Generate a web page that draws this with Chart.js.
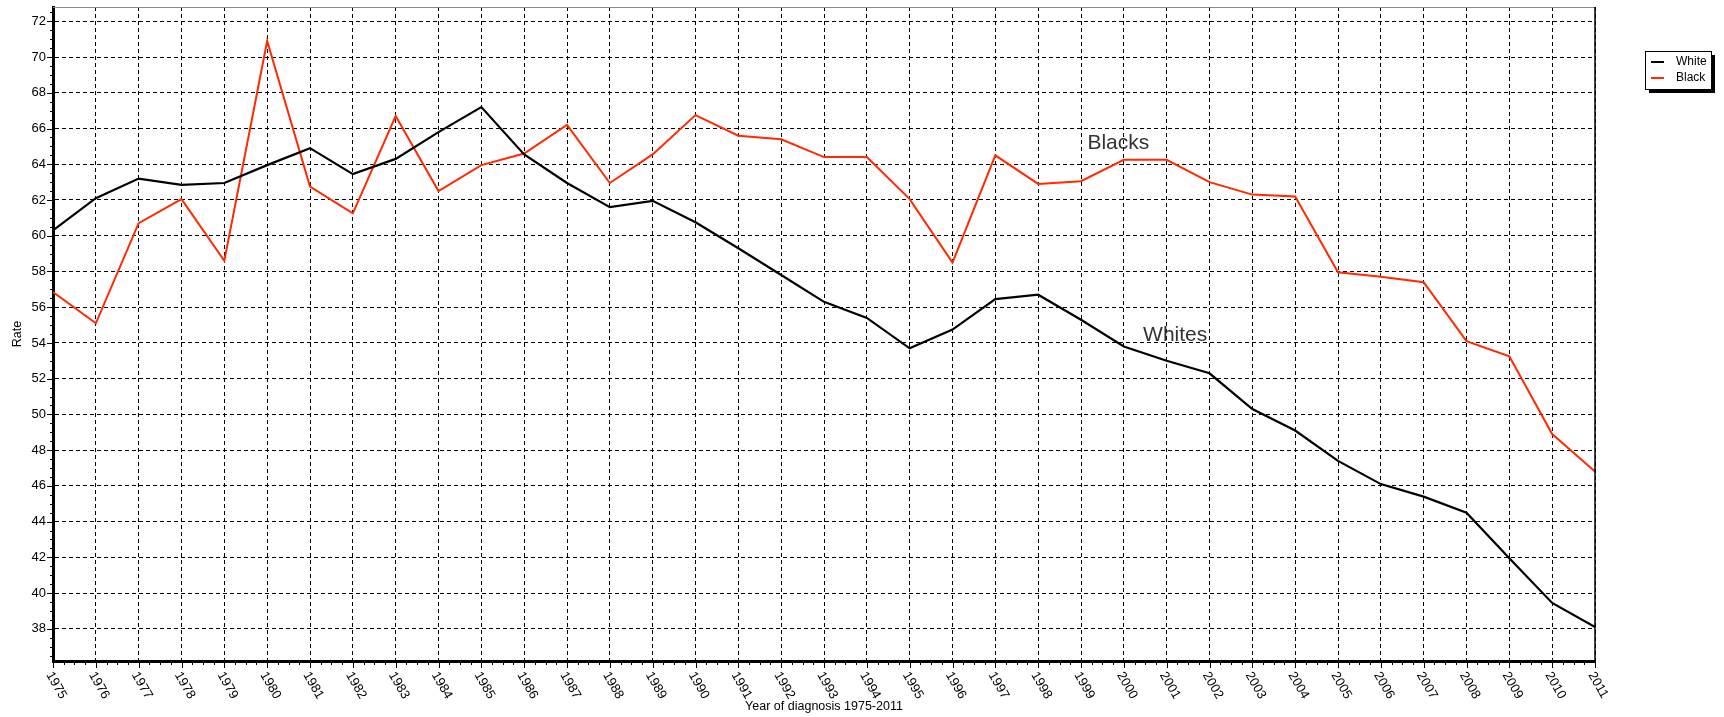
<!DOCTYPE html>
<html>
<head>
<meta charset="utf-8">
<script src="https://cdn.jsdelivr.net/npm/chart.js@4.4.1/dist/chart.umd.min.js"></script>
<style>
  html, body { margin: 0; padding: 0; background: #fff; }
  canvas { display: block; }
</style>
</head>
<body>
<canvas id="rateChart" width="1724" height="717"></canvas>
<script>
// Years on the x axis
const years = [1975, 1976, 1977, 1978, 1979, 1980, 1981, 1982, 1983, 1984,
    1985, 1986, 1987, 1988, 1989, 1990, 1991, 1992, 1993, 1994,
    1995, 1996, 1997, 1998, 1999, 2000, 2001, 2002, 2003, 2004,
    2005, 2006, 2007, 2008, 2009, 2010, 2011];

// Rates
const whiteRates = [60.3, 62.1, 63.2, 62.85, 62.95, 63.95, 64.9, 63.45, 64.3, 65.8,
    67.2, 64.55, 62.95, 61.6, 61.95, 60.75, 59.3, 57.8, 56.3, 55.4,
    53.7, 54.75, 56.45, 56.7, 55.3, 53.8, 53.0, 52.3, 50.3, 49.1,
    47.4, 46.1, 45.4, 44.5, 41.95, 39.45, 38.1];

const blackRates = [56.85, 55.1, 60.7, 62.05, 58.6, 70.9, 62.75, 61.25, 66.7, 62.5,
    63.95, 64.6, 66.2, 62.95, 64.55, 66.75, 65.6, 65.4, 64.4, 64.4,
    62.05, 58.5, 64.5, 62.9, 63.05, 64.25, 64.25, 63.0, 62.3, 62.2,
    57.95, 57.7, 57.4, 54.1, 53.25, 48.9, 46.8];

const yTicks = [38, 40, 42, 44, 46, 48, 50, 52, 54, 56, 58, 60, 62, 64, 66, 68, 70, 72];

const seriesLabels = ['White', 'Black'];
const xTitle = 'Year of diagnosis 1975-2011';
const yTitle = 'Rate';

document.addEventListener('DOMContentLoaded', function () {
    Chart.defaults.font.family = '"Liberation Sans", Arial, sans-serif';

    const colors = {
        white: '#000000',
        black: '#ff2a00',
        text: '#000000',
        note: '#333333'
    };

    // Labels written inside the plot (x in years, y in rate)
    const notes = [
        { text: 'Blacks', x: 1999.15, y: 65.2 },
        { text: 'Whites', x: 2000.45, y: 54.45 }
    ];

    // Extra drawing: frame, minor ticks, rotated year labels, titles, legend
    const decorations = {
        id: 'decorations',
        afterDraw(chart) {
            const ctx = chart.ctx;
            const area = chart.chartArea;
            const xs = chart.scales.x;
            const ys = chart.scales.y;

            ctx.save();

            // top and right frame
            ctx.lineWidth = 1;
            ctx.strokeStyle = '#8a8a8a';
            ctx.beginPath();
            ctx.moveTo(area.left, area.top + 0.5);
            ctx.lineTo(area.right, area.top + 0.5);
            ctx.stroke();
            ctx.strokeStyle = '#000';
            ctx.lineWidth = 1.5;
            ctx.beginPath();
            ctx.moveTo(area.right, area.top);
            ctx.lineTo(area.right, area.bottom);
            ctx.stroke();

            // x ticks, major and minor
            ctx.lineWidth = 1;
            ctx.strokeStyle = '#000';
            ctx.beginPath();
            for (let v = years[0]; v <= years[years.length - 1] + 0.001; v += 0.25) {
                const px = Math.round(xs.getPixelForValue(v)) + 0.5;
                const major = Math.abs(v - Math.round(v)) < 0.01;
                ctx.moveTo(px, area.bottom);
                ctx.lineTo(px, area.bottom + (major ? 7 : 4));
            }
            // y ticks, major and minor
            for (let v = 36.5; v <= 72.5; v += 0.5) {
                const py = Math.round(ys.getPixelForValue(v)) + 0.5;
                const major = v % 2 === 0;
                ctx.moveTo(area.left, py);
                ctx.lineTo(area.left - (major ? 6 : 3), py);
            }
            ctx.stroke();

            // rotated year labels
            ctx.fillStyle = colors.text;
            ctx.font = '13px "Liberation Sans", Arial, sans-serif';
            ctx.textAlign = 'left';
            ctx.textBaseline = 'middle';
            years.forEach(function (yr) {
                const px = xs.getPixelForValue(yr);
                ctx.save();
                ctx.translate(px - 4, area.bottom + 12);
                ctx.rotate(Math.PI / 3);
                ctx.fillText(String(yr), 0, 0);
                ctx.restore();
            });

            // axis titles
            ctx.textAlign = 'center';
            ctx.font = '12.5px "Liberation Sans", Arial, sans-serif';
            ctx.fillText(xTitle, (area.left + area.right) / 2, 707);
            ctx.save();
            ctx.translate(18, (area.top + area.bottom) / 2);
            ctx.rotate(-Math.PI / 2);
            ctx.fillText(yTitle, 0, 0);
            ctx.restore();

            // notes in the plot
            ctx.fillStyle = colors.note;
            ctx.font = '21px "Liberation Sans", Arial, sans-serif';
            ctx.textAlign = 'left';
            notes.forEach(function (n) {
                ctx.fillText(n.text, xs.getPixelForValue(n.x), ys.getPixelForValue(n.y));
            });

            // legend box with shadow
            const bx = 1645, by = 51, bw = 66, bh = 38;
            ctx.fillStyle = '#000';
            ctx.fillRect(bx + 4, by + 4, bw, bh);
            ctx.fillStyle = '#fff';
            ctx.fillRect(bx, by, bw, bh);
            ctx.strokeStyle = '#000';
            ctx.lineWidth = 1;
            ctx.strokeRect(bx + 0.5, by + 0.5, bw, bh);
            ctx.font = '12px "Liberation Sans", Arial, sans-serif';
            ctx.textBaseline = 'middle';
            chart.data.datasets.forEach(function (ds, i) {
                const ly = by + 11 + i * 16;
                ctx.strokeStyle = ds.borderColor;
                ctx.lineWidth = 2;
                ctx.beginPath();
                ctx.moveTo(bx + 6, ly);
                ctx.lineTo(bx + 19, ly);
                ctx.stroke();
                ctx.fillStyle = '#000';
                ctx.fillText(ds.label, bx + 31, ly);
            });

            ctx.restore();
        }
    };

    const ctx = document.getElementById('rateChart');
    new Chart(ctx, {
        type: 'line',
        data: {
            datasets: [{
                label: seriesLabels[0],
                data: years.map((yr, i) => ({ x: yr, y: whiteRates[i] })),
                borderColor: colors.white,
                borderWidth: 2.2,
                pointRadius: 0,
                tension: 0
            }, {
                label: seriesLabels[1],
                data: years.map((yr, i) => ({ x: yr, y: blackRates[i] })),
                borderColor: colors.black,
                borderWidth: 2,
                pointRadius: 0,
                tension: 0
            }]
        },
        options: {
            responsive: false,
            animation: false,
            devicePixelRatio: 1,
            layout: {
                padding: { left: 0, top: 7, right: 129, bottom: 0 }
            },
            plugins: {
                legend: { display: false },
                tooltip: { enabled: false }
            },
            scales: {
                x: {
                    type: 'linear',
                    min: years[0],
                    max: years[years.length - 1],
                    afterBuildTicks: scale => {
                        scale.ticks = years.map(v => ({ value: v }));
                    },
                    afterFit: scale => {
                        scale.height = 56;
                        scale.paddingLeft = 0;
                        scale.paddingRight = 0;
                    },
                    ticks: { display: false },
                    grid: {
                        color: '#000',
                        lineWidth: 1,
                        drawTicks: false
                    },
                    border: {
                        color: '#000',
                        width: 3,
                        dash: [4, 3]
                    }
                },
                y: {
                    min: 36.2,
                    max: 72.8,
                    afterBuildTicks: scale => {
                        scale.ticks = yTicks.map(v => ({ value: v }));
                    },
                    afterFit: scale => {
                        scale.width = 53;
                        scale.paddingTop = 0;
                        scale.paddingBottom = 0;
                    },
                    ticks: {
                        color: colors.text,
                        padding: 7,
                        font: { size: 13 }
                    },
                    grid: {
                        color: '#000',
                        lineWidth: 1,
                        drawTicks: false
                    },
                    border: {
                        color: '#000',
                        width: 3,
                        dash: [4, 3]
                    }
                }
            }
        },
        plugins: [decorations]
    });
});
</script>
</body>
</html>
